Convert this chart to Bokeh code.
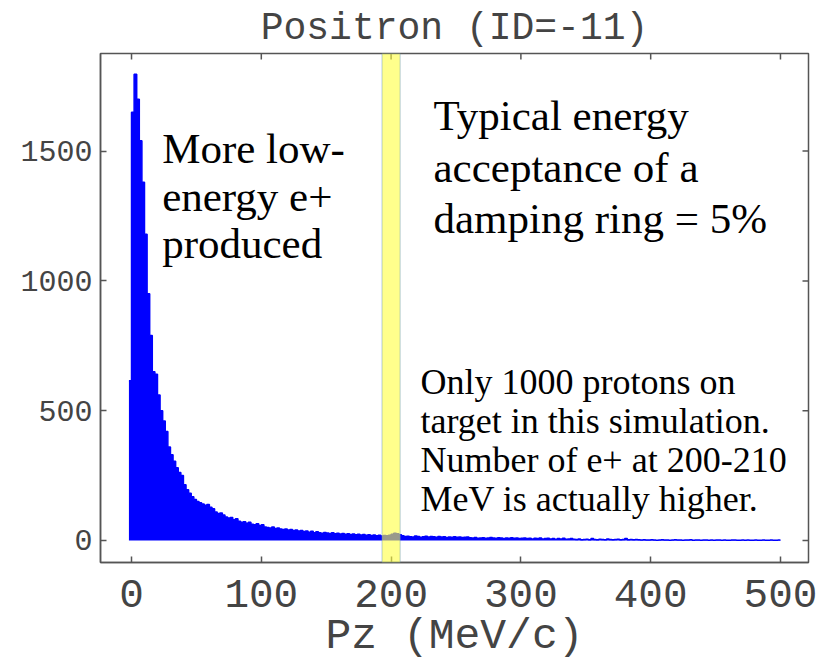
import numpy as np
from bokeh.plotting import figure
from bokeh.models import Range1d, BoxAnnotation, Label, FixedTicker, ColumnDataSource
from bokeh.embed import file_html
from bokeh.resources import INLINE

# ---- data ----
bin_width = 2.0          # MeV/c
first_edge = -2.0        # MeV/c
counts = [
    615, 1650, 1796, 1700, 1540, 1380, 1180, 950, 790, 650,
    640, 560, 500, 460, 420, 360, 330, 305, 280, 262,
    250, 215, 195, 182, 168, 158, 150, 145, 140, 136,
    138, 128, 122, 110, 104, 106, 98, 90, 86, 88,
    80, 84, 74, 70, 72, 66, 70, 62, 60, 64,
    58, 60, 52, 50, 48, 52, 46, 48, 44, 42,
    44, 40, 42, 38, 40, 36, 38, 34, 36, 32,
    35, 30, 33, 30, 28, 31, 29, 27, 30, 26,
    28, 25, 27, 24, 26, 23, 25, 22, 24, 21,
    23, 20, 22, 19, 21, 18, 20, 17, 19, 18,
    20, 24, 28, 26, 22, 18, 15,
    16, 14, 13, 17, 15, 12, 14, 16, 13, 15, 14, 12,
    15, 13, 14, 11, 13, 12, 14, 12, 13, 11, 12, 13,
    10, 9, 11, 8, 9, 10, 8, 9, 11, 9, 8, 10, 9, 7, 9, 8, 10, 8, 9, 7,
    8, 9, 7, 8, 6, 8, 7, 9, 6, 7, 8, 6, 7, 5, 7, 6, 8, 5, 6, 7,
    5, 4, 6, 3, 4, 5, 3, 7, 4, 3, 5, 4, 3, 6, 4, 3, 4, 5, 3, 4, 7, 3, 4, 3, 4,
    3, 2, 3, 2, 2, 3, 2, 1, 2, 3, 2, 2, 1, 2, 3, 2, 2, 1, 2, 2,
    3, 1, 2, 2, 1, 2, 2, 1, 2, 1, 2, 2, 1, 2, 1, 1, 2, 2, 1, 1,
    2, 1, 2, 1, 1, 2, 1, 1, 2, 1, 1, 2, 1, 1, 2,
]
x_ticks = [0, 100, 200, 300, 400, 500]
y_ticks = [0, 500, 1000, 1500]
x_lim = (-23.9, 521.6)
y_lim = (-85, 1876)
band_lo, band_hi = 193.0, 207.0   # highlighted acceptance window

title_text = "Positron (ID=-11)"
x_label = "Pz (MeV/c)"
note_left = "More low-\nenergy e+\nproduced"
note_right = "Typical energy\nacceptance of a\ndamping ring = 5%"
note_bottom = "Only 1000 protons on\ntarget in this simulation.\nNumber of e+ at 200-210\nMeV is actually higher."

# ---- build: step outline of the histogram ----
edges = first_edge + bin_width * np.arange(len(counts) + 1)
cnt = np.asarray(counts, dtype=float)
px = np.concatenate([[edges[0]], np.repeat(edges[1:-1], 2), [edges[-1]]])
py = np.repeat(cnt, 2)
hist_src = ColumnDataSource(dict(x=px, y=py))

AX = "#555555"
TXT = "#444444"
TICKF = "Liberation Mono"

p = figure(width=823, height=666, x_range=Range1d(*x_lim), y_range=Range1d(*y_lim),
           output_backend="svg", toolbar_location=None, title=title_text,
           min_border_left=100, min_border_right=15, min_border_top=0, min_border_bottom=104)
p.xgrid.visible = False
p.ygrid.visible = False
p.outline_line_color = AX
p.outline_line_width = 1.5

p.title.text_font = TICKF
p.title.text_font_size = "38px"
p.title.text_font_style = "normal"
p.title.text_color = TXT
p.title.align = "center"
p.title.standoff = 8

for ax in p.xaxis:
    ax.ticker = FixedTicker(ticks=x_ticks)
    ax.axis_label = x_label
    ax.axis_label_text_font = TICKF
    ax.axis_label_text_font_size = "43px"
    ax.axis_label_text_font_style = "normal"
    ax.axis_label_text_color = TXT
    ax.axis_label_standoff = 2
    ax.major_label_text_font = TICKF
    ax.major_label_text_font_size = "41px"
    ax.major_label_text_color = TXT
    ax.major_label_standoff = 17
for ax in p.yaxis:
    ax.ticker = FixedTicker(ticks=y_ticks)
    ax.major_label_text_font = TICKF
    ax.major_label_text_font_size = "30px"
    ax.major_label_text_color = TXT
    ax.major_label_standoff = 8
for ax in list(p.xaxis) + list(p.yaxis):
    ax.major_tick_in = 6
    ax.major_tick_out = 0
    ax.minor_tick_line_color = None
    ax.axis_line_color = AX
    ax.axis_line_width = 1.5
    ax.major_tick_line_color = AX
    ax.major_tick_line_width = 1.5

# histogram: filled area under the step curve, plus its outline
p.varea(x="x", y1=0, y2="y", source=hist_src, fill_color="#0000ff")
p.line(x="x", y="y", source=hist_src, line_color="#0000ff", line_width=1.5)

# inward ticks on the top and right frame edges (half of a dash marker is clipped away)
p.scatter(x=x_ticks, y=[y_lim[1]] * len(x_ticks), marker="dash", angle=np.pi / 2, size=12,
          line_color=AX, line_width=1.5)
p.scatter(x=[x_lim[1]] * len(y_ticks), y=y_ticks, marker="dash", size=12,
          line_color=AX, line_width=1.5)

p.add_layout(BoxAnnotation(left=band_lo, right=band_hi, fill_color="#ffff40", fill_alpha=0.6,
                           line_color="#5b8ec9", line_width=1.5))

SERIF = "Liberation Serif"
p.add_layout(Label(x=23.6, y=1600, text=note_left, text_font=SERIF, text_font_size="43px",
                   text_baseline="top", text_align="left", text_line_height=1.01, text_color="black"))
p.add_layout(Label(x=232.7, y=1728, text=note_right, text_font=SERIF, text_font_size="43px",
                   text_baseline="top", text_align="left", text_line_height=1.10, text_color="black"))
p.add_layout(Label(x=222.6, y=688, text=note_bottom, text_font=SERIF, text_font_size="36px",
                   text_baseline="top", text_align="left", text_line_height=0.98, text_color="black"))

open("out.html", "w").write(file_html(p, INLINE))
